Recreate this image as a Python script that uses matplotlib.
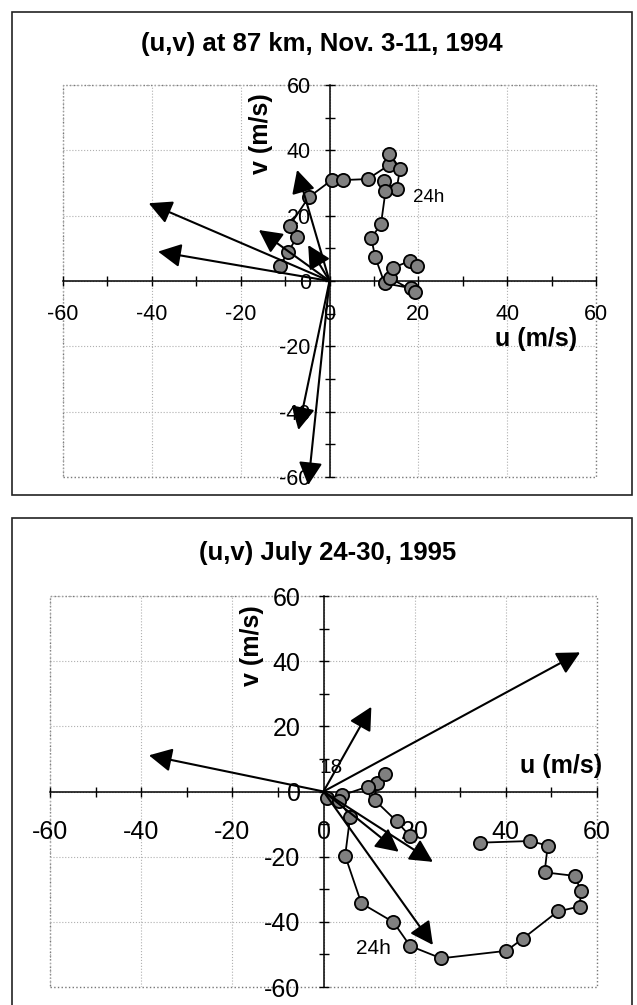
import matplotlib
matplotlib.use("Agg")
import matplotlib.pyplot as plt
from matplotlib.patches import Rectangle, FancyArrowPatch
import numpy as np

plt.rcParams['font.family'] = ['Liberation Sans', 'DejaVu Sans']
plt.rcParams['axes.unicode_minus'] = False

# top chart: hodograph at 87 km, Nov. 3-11, 1994
u_top = [-11.1, -9.4, -7.3, -9.0, -4.7, 0.5, 3.1, 8.6, 13.3, 13.5, 15.9, 15.1,
         12.2, 12.6, 11.6, 9.4, 10.3, 12.4, 18.4, 19.3, 13.7, 14.4, 18.2, 19.6]
v_top = [4.7, 8.8, 13.4, 16.9, 25.6, 30.9, 30.9, 31.2, 35.4, 38.9, 34.4, 28.1,
         30.6, 27.4, 17.5, 13.1, 7.3, -0.7, -2.2, -3.3, 0.8, 4.1, 6.2, 4.7]
arrow_u_top = [-40.7, -38.6, -15.9, -7.3, -4.8, -7.0, -4.8]
arrow_v_top = [23.8, 9.0, 15.6, 34.0, 11.0, -45.6, -62.5]

# bottom chart: July 24-30, 1995
u_bot = [19.0, 16.1, 11.2, 11.7, 13.5, 9.7, 4.0, 0.7, 3.45, 5.85, 4.75, 8.3,
         15.35, 19.0, 25.8, 40.1, 43.7, 51.4, 56.2, 56.5, 55.1, 48.5, 49.2, 45.3, 34.4]
v_bot = [-13.8, -9.2, -2.6, 2.5, 5.3, 1.5, -1.2, -2.05, -2.9, -7.7, -19.7, -34.3,
         -40.1, -47.4, -51.2, -48.9, -45.2, -36.8, -35.3, -30.5, -25.9, -24.8, -16.6, -15.2, -15.7]
arrow_u_bot = [-38.3, 10.5, 56.3, 16.5, 24.0, 24.0]
arrow_v_bot = [11.1, 26.0, 42.7, -18.5, -21.6, -47.1]

W, H = 637, 1005
fig = plt.figure(figsize=(W / 100, H / 100), dpi=100)


def px_axes(left, top, right, bottom):
    return fig.add_axes([left / W, 1 - bottom / H, (right - left) / W, (bottom - top) / H])


def setup(ax, fs, xpad, ypad):
    ax.set_xlim(-60, 60)
    ax.set_ylim(-60, 60)
    ax.spines['left'].set_position(('data', 0))
    ax.spines['bottom'].set_position(('data', 0))
    ax.spines['top'].set_visible(False)
    ax.spines['right'].set_visible(False)
    for s in ['left', 'bottom']:
        ax.spines[s].set_linewidth(1.1)
        ax.spines[s].set_color('black')
    ax.set_xticks(np.arange(-60, 61, 20))
    ax.set_yticks(np.arange(-60, 61, 20))
    ax.set_xticks(np.arange(-50, 60, 20), minor=True)
    ax.set_yticks(np.arange(-50, 60, 20), minor=True)
    ax.tick_params(which='both', direction='inout', length=7, width=1, labelsize=fs)
    ax.tick_params(axis='x', pad=xpad)
    ax.tick_params(axis='y', pad=ypad)
    ax.grid(True, which='major', linestyle=':', color='#b0b0b0', linewidth=0.8)
    ax.add_patch(Rectangle((0, 0), 1, 1, transform=ax.transAxes, fill=False,
                           linestyle=':', edgecolor='#777777', linewidth=1.0, clip_on=False))


def draw(ax, u, v, au, av):
    ax.plot(u, v, '-', color='black', linewidth=1.3, marker='o', markersize=9.5,
            markerfacecolor='#808080', markeredgecolor='black', markeredgewidth=1.3,
            zorder=3, clip_on=False)
    for x, y in zip(au, av):
        ax.add_patch(FancyArrowPatch((0, 0), (x, y),
                                     arrowstyle='-|>,head_length=0.7,head_width=0.36',
                                     mutation_scale=20, color='black', linewidth=1.5,
                                     shrinkA=0, shrinkB=0, zorder=4, clip_on=False))


# outer frames
fig.patches.append(Rectangle((12 / W, 1 - 495 / H), 620 / W, 483 / H, transform=fig.transFigure,
                             fill=False, edgecolor='#222222', linewidth=1.2))
fig.patches.append(Rectangle((12 / W, -0.01), 620 / W, 1 - 518 / H + 0.01, transform=fig.transFigure,
                             fill=False, edgecolor='#222222', linewidth=1.2))

ax1 = px_axes(63, 85, 596, 477)
setup(ax1, 15.5, 13, 10)
draw(ax1, u_top, v_top, arrow_u_top, arrow_v_top)
ax1.text(18.8, 25.7, '24h', fontsize=13.5, va='center', ha='left')
ax1.text(-15.5, 45, 'v (m/s)', rotation=90, fontsize=18, fontweight='bold', ha='center', va='center')
ax1.text(46.5, -17.8, 'u (m/s)', fontsize=18, fontweight='bold', ha='center', va='center')
fig.text(322 / W, 1 - 44 / H, '(u,v) at 87 km, Nov. 3-11, 1994', fontsize=18.5,
         fontweight='bold', ha='center', va='center')

ax2 = px_axes(50, 596, 597, 987)
setup(ax2, 18, 17, 13)
draw(ax2, u_bot, v_bot, arrow_u_bot, arrow_v_bot)
ax2.text(7.2, -48.2, '24h', fontsize=15, va='center', ha='left')
ax2.text(1.6, 7.4, '18', fontsize=15, va='center', ha='center', zorder=1)
ax2.text(-15.6, 44.8, 'v (m/s)', rotation=90, fontsize=18, fontweight='bold', ha='center', va='center')
ax2.text(52.1, 7.7, 'u (m/s)', fontsize=18, fontweight='bold', ha='center', va='center')
fig.text(328 / W, 1 - 553 / H, '(u,v) July 24-30, 1995', fontsize=18.5,
         fontweight='bold', ha='center', va='center')

fig.savefig('out.png', dpi=100)
